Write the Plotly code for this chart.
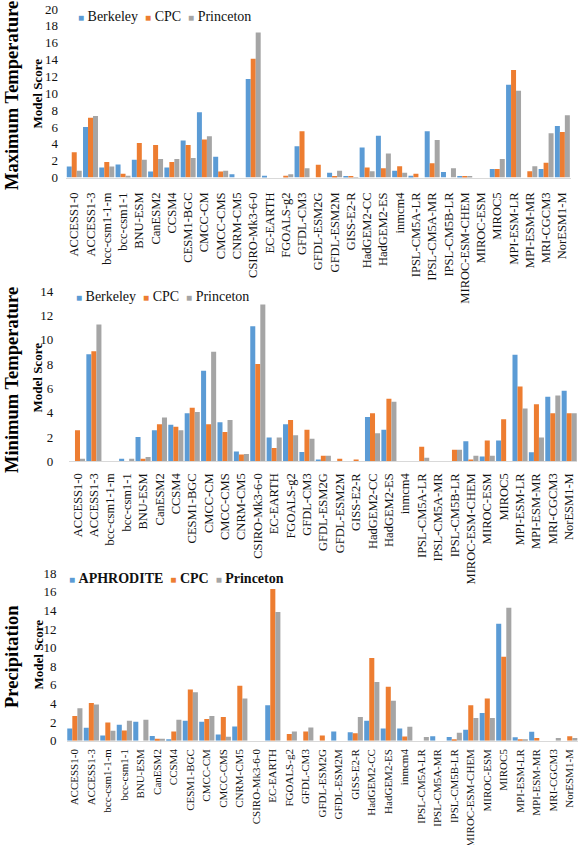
import plotly.graph_objects as go

W, H = 579, 845

models = ["ACCESS1-0", "ACCESS1-3", "bcc-csm1-1-m", "bcc-csm1-1", "BNU-ESM", "CanESM2", "CCSM4",
          "CESM1-BGC", "CMCC-CM", "CMCC-CMS", "CNRM-CM5", "CSIRO-Mk3-6-0", "EC-EARTH", "FGOALS-g2",
          "GFDL-CM3", "GFDL-ESM2G", "GFDL-ESM2M", "GISS-E2-R", "HadGEM2-CC", "HadGEM2-ES", "inmcm4",
          "IPSL-CM5A-LR", "IPSL-CM5A-MR", "IPSL-CM5B-LR", "MIROC-ESM-CHEM", "MIROC-ESM", "MIROC5",
          "MPI-ESM-LR", "MPI-ESM-MR", "MRI-CGCM3", "NorESM1-M"]

# Maximum temperature
tmax_berkeley = [1.3, 6.0, 1.2, 1.55, 2.1, 0.7, 1.2, 4.4, 7.75, 2.45, 0.4, 11.7, 0.2, 0, 3.7, 0, 0.55, 0.1,
                 3.55, 4.95, 0.8, 0.2, 5.5, 0.65, 0.1, 0, 1.0, 11.0, 0, 1.0, 6.1]
tmax_cpc = [3.0, 7.1, 1.85, 0.45, 4.1, 3.85, 1.85, 3.85, 4.5, 0.7, 0, 14.1, 0, 0.2, 5.5, 1.5, 0.1, 0.1,
            1.2, 1.1, 1.35, 0.45, 1.7, 0, 0.1, 0, 1.0, 12.75, 0.75, 1.75, 5.4]
tmax_princeton = [0.8, 7.3, 1.3, 0.2, 2.1, 2.2, 2.2, 2.3, 4.9, 0.8, 0, 17.2, 0, 0.4, 1.1, 0, 0.8, 0.05,
                  0.75, 2.85, 0.55, 0, 4.45, 1.1, 0.15, 0, 2.2, 10.3, 1.35, 5.25, 7.4]

# Minimum temperature
tmin_berkeley = [0, 8.8, 0, 0.2, 2.0, 2.55, 3.0, 3.95, 7.45, 3.2, 0.8, 11.1, 1.95, 3.05, 0.77, 0.15, 0, 0,
                 3.65, 2.6, 0, 0, 0, 0, 1.65, 0.4, 1.7, 8.75, 0.75, 5.3, 5.8]
tmin_cpc = [2.55, 9.05, 0, 0, 0.2, 3.05, 2.85, 4.4, 3.05, 2.4, 0.55, 8.0, 1.1, 3.4, 2.6, 0.45, 0.2, 0.15,
            3.95, 5.15, 0, 1.2, 0, 0.95, 0.15, 1.7, 3.45, 6.15, 4.7, 3.95, 3.95]
tmin_princeton = [0.2, 11.25, 0, 0.2, 0.35, 3.6, 2.55, 4.05, 9.0, 3.4, 0.6, 12.9, 1.95, 2.15, 1.85, 0.45, 0, 0,
                  2.3, 4.9, 0, 0.3, 0, 0.95, 0.45, 0.45, 0, 4.35, 1.95, 5.4, 3.95]

# Precipitation
pr_aphrodite = [1.3, 1.4, 0.57, 1.72, 2.04, 0.5, 0.15, 2.15, 2.04, 0.68, 1.54, 0, 3.8, 0, 0, 0, 1.0, 0.9,
                2.15, 1.3, 1.3, 0, 0.47, 0.4, 1.18, 2.97, 12.58, 0.36, 0.97, 0, 0]
pr_cpc = [2.65, 4.05, 1.95, 1.1, 0, 0.2, 1.0, 5.5, 2.33, 2.55, 5.9, 0, 16.3, 0.72, 1.0, 0.57, 0, 0.8,
          8.9, 5.8, 0.45, 0, 0, 0.1, 3.8, 4.55, 9.03, 0.15, 0.29, 0, 0.47]
pr_princeton = [3.5, 3.9, 1.08, 2.15, 2.25, 0.2, 2.25, 5.2, 2.65, 0.43, 4.55, 0, 13.83, 1.0, 1.43, 0, 0, 2.55,
                6.3, 4.3, 1.5, 0.4, 0, 0.85, 2.44, 2.44, 14.3, 0.15, 0, 0.29, 0.29]

BLUE, ORANGE, GRAY = "#5B9BD5", "#ED7D31", "#A5A5A5"
FONT = "Liberation Serif"


def px_x(x):
    return x / W


def px_y(y):
    return 1 - y / H


panels = [
    dict(series=[("Berkeley", tmax_berkeley, BLUE), ("CPC", tmax_cpc, ORANGE), ("Princeton", tmax_princeton, GRAY)],
         xdom=(66.1, 570.5), ydom=(177.5, 9), ymax=20, title="Maximum Temperature", tcy=96,
         leg=(76, 16, False), standoff=7, xstand=9, xfs=12.5),
    dict(series=[("Berkeley", tmin_berkeley, BLUE), ("CPC", tmin_cpc, ORANGE), ("Princeton", tmin_princeton, GRAY)],
         xdom=(69.3, 577.4), ydom=(461.3, 291), ymax=14, title="Minimum Temperature", tcy=380,
         leg=(74, 296, False), standoff=15, xstand=6, xfs=12.5),
    dict(series=[("APHRODITE", pr_aphrodite, BLUE), ("CPC", pr_cpc, ORANGE), ("Princeton", pr_princeton, GRAY)],
         xdom=(66.6, 578.0), ydom=(740.7, 573.3), ymax=18, title="Precipitation", tcy=657,
         leg=(67, 578, True), standoff=9, xstand=3, xfs=11),
]

fig = go.Figure()
annotations = []
layout = {}
for i, p in enumerate(panels):
    k = "" if i == 0 else str(i + 1)
    for name, vals, col in p["series"]:
        fig.add_trace(go.Bar(x=models, y=vals, name=name, marker_color=col, marker_line_width=0,
                             xaxis="x" + k, yaxis="y" + k, showlegend=False))
    layout["xaxis" + k] = dict(
        domain=[px_x(p["xdom"][0]), px_x(p["xdom"][1])], anchor="y" + k, type="category",
        tickangle=-90, tickfont=dict(family=FONT, size=p["xfs"], color="#111"),
        showline=True, linecolor="#D9D9D9", linewidth=1, ticks="", showgrid=False,
        ticklabelstandoff=p["xstand"], fixedrange=True, automargin=False)
    layout["yaxis" + k] = dict(
        domain=[px_y(p["ydom"][0]), px_y(p["ydom"][1])], anchor="x" + k,
        range=[0, p["ymax"]], tick0=0, dtick=2, showgrid=False, zeroline=False, showline=False,
        ticks="", tickfont=dict(family=FONT, size=13, color="#111"),
        ticklabelstandoff=p["standoff"], automargin=False)
    # big panel title
    annotations.append(dict(text="<b>%s</b>" % p["title"], x=px_x(12), y=px_y(p["tcy"]),
                            xref="paper", yref="paper", textangle=-90, showarrow=False,
                            font=dict(family=FONT, size=18.5, color="#000"),
                            xanchor="center", yanchor="middle"))
    annotations.append(dict(text="<b>Model Score</b>", x=px_x(37.5), y=px_y(p["tcy"] - 2),
                            xref="paper", yref="paper", textangle=-90, showarrow=False,
                            font=dict(family=FONT, size=13, color="#000"),
                            xanchor="center", yanchor="middle"))
    lx, ly, bold = p["leg"]
    parts = []
    for name, vals, col in p["series"]:
        nm = "<b>%s</b>" % name if bold else name
        parts.append("<span style='color:%s;font-size:10px'>■</span> %s" % (col, nm))
    annotations.append(dict(text="  ".join(parts), x=px_x(lx), y=px_y(ly), xref="paper", yref="paper",
                            showarrow=False, xanchor="left", yanchor="middle",
                            font=dict(family=FONT, size=14, color="#111")))

fig.update_layout(
    width=W, height=H, margin=dict(l=0, r=0, t=0, b=0, autoexpand=False),
    paper_bgcolor="white", plot_bgcolor="white",
    barmode="group", bargap=0.08, bargroupgap=0,
    annotations=annotations, showlegend=False,
    **layout)

fig.write_html("out.html")
